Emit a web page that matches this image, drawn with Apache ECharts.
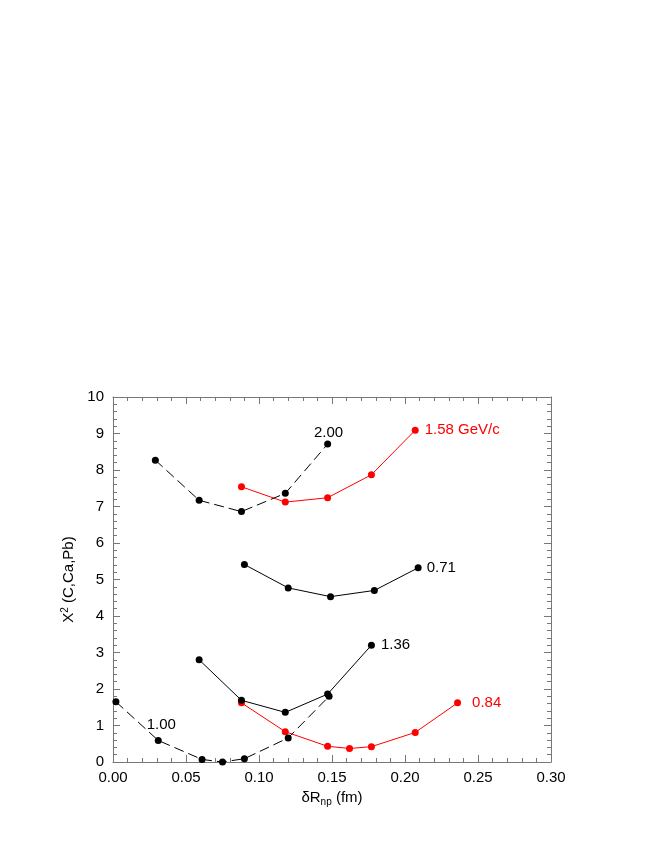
<!DOCTYPE html>
<html>
<head>
<meta charset="utf-8">
<script src="https://cdn.jsdelivr.net/npm/echarts@6/dist/echarts.min.js"></script>
<style>
  html, body { margin: 0; padding: 0; background: #fff; }
  #chart { width: 664px; height: 860px; }
</style>
</head>
<body>
<div id="chart"></div>
<script>
// 各动量下 χ² 随 δRnp 的变化
const S200 = [[0.029, 8.27], [0.059, 7.17], [0.088, 6.86], [0.118, 7.36], [0.147, 8.71]];
const S158 = [[0.088, 7.54], [0.118, 7.12], [0.147, 7.24], [0.177, 7.87], [0.207, 9.09]];
const S071 = [[0.090, 5.41], [0.120, 4.77], [0.149, 4.53], [0.179, 4.70], [0.209, 5.32]];
const S136 = [[0.059, 2.80], [0.088, 1.69], [0.118, 1.36], [0.147, 1.86], [0.177, 3.20]];
const S100 = [[0.002, 1.65], [0.031, 0.59], [0.061, 0.07], [0.075, 0.00], [0.090, 0.09], [0.120, 0.66], [0.148, 1.80]];
const S084 = [[0.088, 1.62], [0.118, 0.83], [0.147, 0.43], [0.162, 0.37], [0.177, 0.42], [0.207, 0.81], [0.236, 1.62]];
const X_TICKS = ["0.00", "0.05", "0.10", "0.15", "0.20", "0.25", "0.30"];

const FONT = "Liberation Sans";
const BLACK = "#000", RED = "#ff0000", AXIS = "#777";

// 在指定点上挂文字标签
function tagAt(data, idx, text, color, pos, offset) {
  return data.map((d, i) => i !== idx ? d : {
    value: d,
    label: { show: true, formatter: text, position: pos, offset: offset || [0, 0],
      color: color, fontSize: 15, fontFamily: FONT },
  });
}

function line(name, data, color, dashed) {
  return {
    name, type: "line", data, symbol: "circle", symbolSize: 7,
    itemStyle: { color }, lineStyle: { color, width: 1, type: dashed ? [10, 5] : "solid" },
    z: color === RED ? 3 : 4, animation: false,
  };
}

function xAx(pos, show) {
  return {
    type: "value", position: pos, min: 0, max: 0.3, interval: 0.05,
    axisLine: { show: true, onZero: false, lineStyle: { color: AXIS } },
    axisTick: { show: true, inside: true, length: 7, lineStyle: { color: AXIS } },
    minorTick: { show: true, splitNumber: 5, length: 4, lineStyle: { color: AXIS } },
    splitLine: { show: false },
    axisLabel: { show, color: BLACK, fontSize: 15, fontFamily: FONT, margin: 8,
      formatter: v => X_TICKS[Math.round(v / 0.05)] },
    name: show ? "{a|δR}{sub|np}{a| (fm)}" : "", nameLocation: "middle", nameGap: 27,
    nameTextStyle: { rich: {
      a: { fontSize: 15, fontFamily: FONT, color: BLACK },
      sub: { fontSize: 10, fontFamily: FONT, color: BLACK, padding: [8, 0, 0, 0] },
    } },
  };
}

function yAx(pos, show) {
  return {
    type: "value", position: pos, min: 0, max: 10, interval: 1,
    axisLine: { show: true, onZero: false, lineStyle: { color: AXIS } },
    axisTick: { show: true, inside: true, length: 7, lineStyle: { color: AXIS } },
    minorTick: { show: true, splitNumber: 5, length: 4, lineStyle: { color: AXIS } },
    splitLine: { show: false },
    axisLabel: { show, color: BLACK, fontSize: 15, fontFamily: FONT, margin: 9 },
    name: show ? "{a|X}{sup|2}{a| (C,Ca,Pb)}" : "", nameLocation: "middle", nameRotate: 90, nameGap: 28,
    nameTextStyle: { rich: {
      a: { fontSize: 15, fontFamily: FONT, color: BLACK },
      sup: { fontSize: 10, fontFamily: FONT, color: BLACK, padding: [0, 0, 8, 0] },
    } },
  };
}

const chart = echarts.init(document.getElementById("chart"));
chart.setOption({
  backgroundColor: "#fff",
  grid: { left: 113, right: 113, top: 397, bottom: 98 },
  xAxis: [xAx("bottom", true), xAx("top", false)],
  yAxis: [yAx("left", true), yAx("right", false)],
  series: [
    line("0.84", tagAt(S084, 6, "0.84", RED, "right", [6, 0]), RED, false),
    line("1.58", tagAt(S158, 4, "1.58 GeV/c", RED, "right", [1, 0]), RED, false),
    line("2.00", tagAt(S200, 4, "2.00", BLACK, "top", [1, 5]), BLACK, true),
    line("0.71", tagAt(S071, 4, "0.71", BLACK, "right", [0, 0]), BLACK, false),
    line("1.36", tagAt(S136, 4, "1.36", BLACK, "right", [1, 0]), BLACK, false),
    line("1.00", tagAt(S100, 1, "1.00", BLACK, "top", [3, 0]), BLACK, true),
  ],
});
</script>
</body>
</html>
